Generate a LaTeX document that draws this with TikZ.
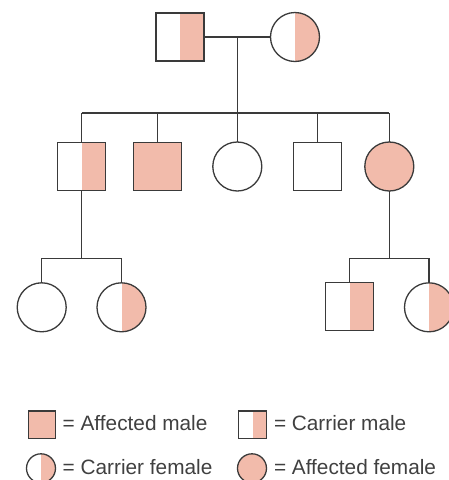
\documentclass[tikz,border=0pt]{standalone}
\usepackage{fontspec}
\setmainfont{Liberation Sans}
\definecolor{trait}{HTML}{F2BBAB}
\definecolor{ink}{HTML}{3A3A3A}
\definecolor{txt}{HTML}{404040}
\begin{document}
\begin{tikzpicture}[x=1pt,y=-1pt,
  every node/.style={inner sep=0pt, outer sep=0pt},
  line/.style={draw=ink, line width=1.3pt},
  person/.style={draw=ink, line width=1.3pt},
  male/.style={person, rectangle, minimum size=48pt},
  female/.style={person, circle, minimum size=49pt},
  smallmale/.style={person, rectangle, minimum size=27.5pt},
  smallfemale/.style={person, circle, minimum size=29pt},
  affected/.style={fill=trait},
  carrier/.style={path picture={\fill[trait] (path picture bounding box.south) rectangle (path picture bounding box.north east);}},
  legendtext/.style={anchor=base west, text=txt, font=\fontsize{20.8}{25}\selectfont}
]
\useasboundingbox (0,0) rectangle (448,480);

% first generation
\node[male, carrier] (father) at (180,37) {};
\node[female, carrier] (mother) at (295,37) {};
\coordinate (couple) at (237.3,37);
\coordinate (sibs) at (237.3,113);

% second generation
\node[male, carrier] (s1) at (81.7,166.5) {};
\node[male, affected] (s2) at (157.5,166.5) {};
\node[female] (d1) at (237.3,166.5) {};
\node[male] (s3) at (317.5,166.5) {};
\node[female, affected] (d2) at (389.3,166.5) {};
\coordinate (barL) at (81.7,113);
\coordinate (barR) at (389.3,113);

% third generation, left family
\coordinate (l1) at (81.7,258.3);
\coordinate (lbarL) at (41.7,258.3);
\coordinate (lbarR) at (121.5,258.3);
\node[female] (g1) at (41.7,307.3) {};
\node[female, carrier] (g2) at (121.5,307.3) {};

% third generation, right family
\coordinate (r1) at (389.3,258.3);
\coordinate (rbarL) at (349.5,258.3);
\coordinate (rbarR) at (429,258.3);
\node[male, carrier] (g3) at (349.5,306.5) {};
\node[female, carrier] (g4) at (429,307.3) {};

% connectors
\draw[line] (father.east) -- (mother.west);
\draw[line] (couple) -- (sibs);
\draw[line] (barL) -- (barR);
\draw[line] (barL) -- (s1.north);
\draw[line] (s2.north |- barL) -- (s2.north);
\draw[line] (sibs) -- (d1.north);
\draw[line] (s3.north |- barL) -- (s3.north);
\draw[line] (barR) -- (d2.north);

\draw[line] (s1.south) -- (l1);
\draw[line] (lbarL) -- (lbarR);
\draw[line] (lbarL) -- (g1.north);
\draw[line] (lbarR) -- (g2.north);

\draw[line] (d2.south) -- (r1);
\draw[line] (rbarL) -- (rbarR);
\draw[line] (rbarL) -- (g3.north);
\draw[line] (rbarR) -- (g4.north);

% legend
\node[smallmale, affected] (kam) at (42,424.8) {};
\node[legendtext] (tam) at (62.7,430) {= Affected male};
\node[smallmale, carrier] (kcm) at (252.5,424.8) {};
\node[legendtext] (tcm) at (274,430) {= Carrier male};
\node[smallfemale, carrier] (kcf) at (41,468.3) {};
\node[legendtext] (tcf) at (62.7,474.3) {= Carrier female};
\node[smallfemale, affected] (kaf) at (252,468.3) {};
\node[legendtext] (taf) at (274,474.3) {= Affected female};
\end{tikzpicture}
\end{document}
